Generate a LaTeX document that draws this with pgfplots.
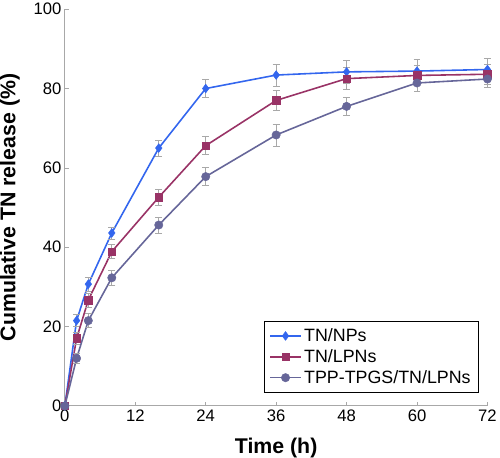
\documentclass[border=0pt]{standalone}
\usepackage{pgfplots}
\pgfplotsset{compat=1.18}
\usepackage{fontspec}
\setmainfont{Liberation Sans}
\definecolor{cblue}{HTML}{3366EE}
\definecolor{cred}{HTML}{993366}
\definecolor{cpur}{HTML}{666699}
\definecolor{axgray}{HTML}{A8A8A8}
\begin{document}
\begin{tikzpicture}
\begin{axis}[
  scale only axis, width=425bp, height=399bp,
  xmin=0, xmax=72, ymin=0, ymax=100,
  xtick={0,12,...,72}, ytick={0,20,...,100},
  axis x line*=bottom, axis y line*=left,
  axis line style={axgray, line width=1pt},
  tick style={axgray, line width=0.7pt},
  tick align=inside, major tick length=4bp,
  /pgf/number format/assume math mode=true,
  ticklabel style={font=\fontsize{16.8}{19}\selectfont},
  xlabel={\textbf{Time (h)}}, ylabel={\textbf{Cumulative TN release (\%)}},
  label style={font=\fontsize{21.5}{24}\selectfont, inner sep=0pt},
  xlabel style={at={(axis description cs:0.5,-0.08)}, anchor=north},
  ylabel style={at={(axis description cs:-0.106,0.5)}, anchor=south},
  legend style={at={(0.979,0.033)}, anchor=south east, draw=black, line width=1pt,
    font=\fontsize{18}{20}\selectfont, row sep=1.5pt, inner sep=5bp,
    nodes={inner sep=2.5bp}},
  legend image post style={line width=1.5pt},
  legend image code/.code={\draw[#1] (0bp,0bp) -- (31bp,0bp) plot coordinates {(15.5bp,0bp)};},
  legend cell align=left,
  error bars/error bar style={axgray, line width=0.7pt},
  error bars/error mark options={rotate=90, axgray, mark size=3.5bp, line width=0.7pt},
  clip=false,
]
\addplot[cblue, line width=1.6pt, mark=diamond*, mark size=4.4bp, mark options={fill=cblue, line width=0.5pt},
  error bars/.cd, y dir=both, y explicit]
  table[x=x, y=y, y error=e] {
x y e
0 0 0
2 21.5 1.5
4 30.7 1.8
8 43.6 1.5
16 65 2
24 80 2.3
36 83.4 2.8
48 84.2 2.8
60 84.4 3
72 84.8 2.8
};
\addlegendentry{TN/NPs}
\addplot[cred, line width=1.6pt, mark=square*, mark size=3.8bp, mark options={fill=cred, line width=0.5pt},
  error bars/.cd, y dir=both, y explicit]
  table[x=x, y=y, y error=e] {
x y e
0 0 0
2 17 1.5
4 26.7 1.8
8 38.9 1.8
16 52.6 2
24 65.6 2.3
36 77 2.5
48 82.5 2.8
60 83.3 2.5
72 83.6 2.5
};
\addlegendentry{TN/LPNs}
\addplot[cpur, line width=1.6pt, mark=*, mark size=4.2bp, mark options={fill=cpur, line width=0.5pt},
  error bars/.cd, y dir=both, y explicit]
  table[x=x, y=y, y error=e] {
x y e
0 0 0
2 12 1.2
4 21.5 1.8
8 32.3 1.8
16 45.6 2
24 57.8 2.3
36 68.3 2.8
48 75.5 2.2
60 81.4 2.2
72 82.4 2.2
};
\addlegendentry{TPP-TPGS/TN/LPNs}
\end{axis}
\end{tikzpicture}
\end{document}
